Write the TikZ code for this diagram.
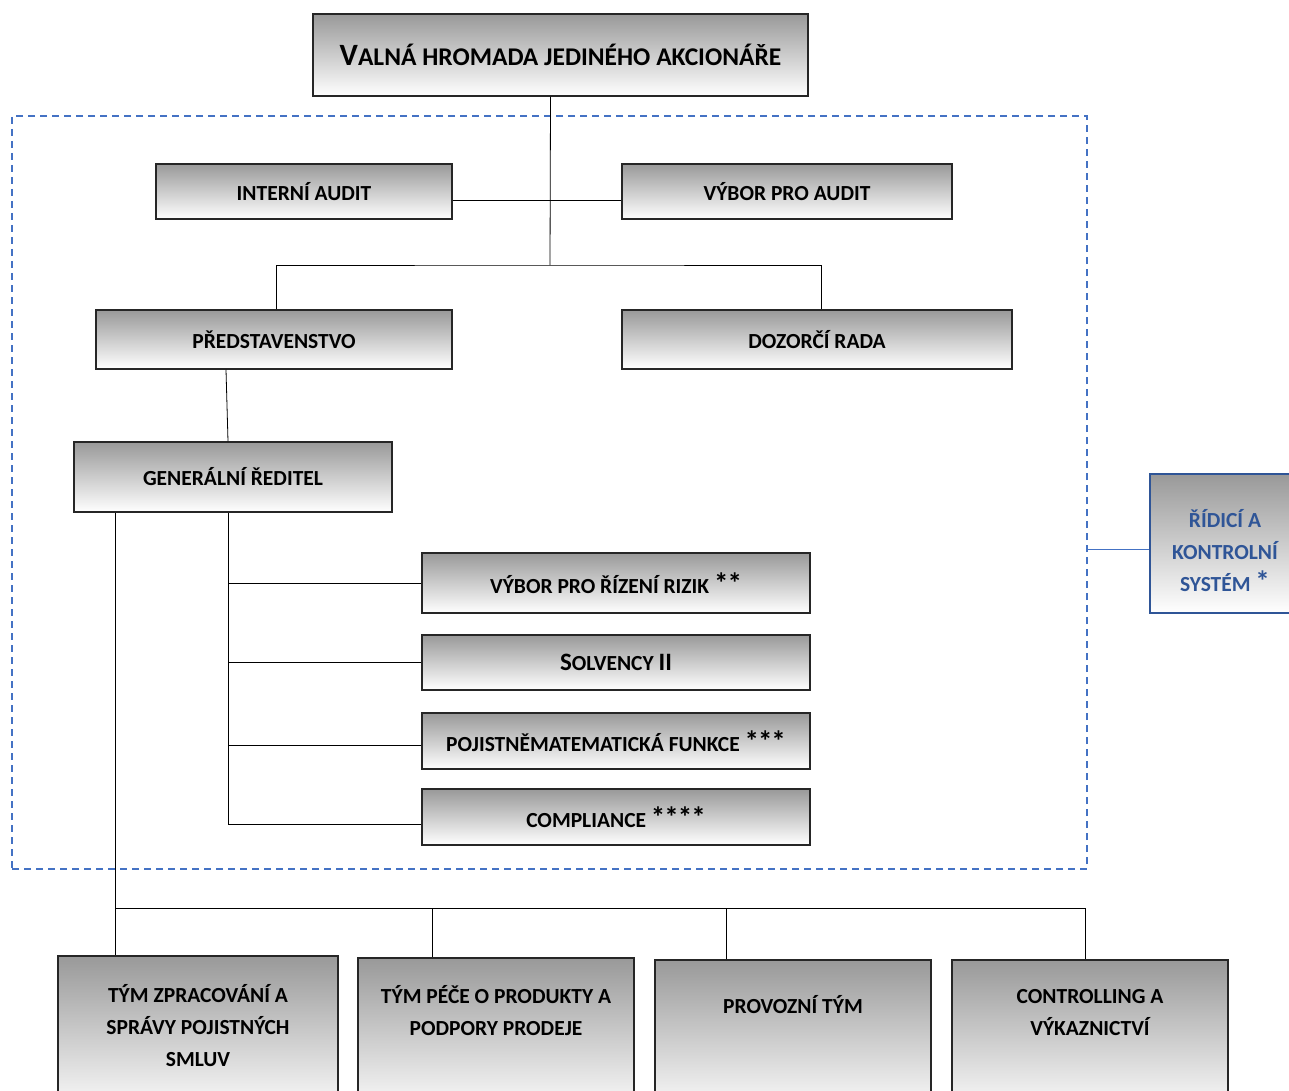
\documentclass[tikz,border=0pt]{standalone}
\usepackage{fontspec}
\setmainfont{Carlito}
\definecolor{dblue}{HTML}{4472C4}
\definecolor{tblue}{HTML}{2F5597}
\newcommand{\astx}[1]{\raisebox{0pt}{\fontsize{29}{20}\selectfont #1}}
\begin{document}
\begin{tikzpicture}[x=1pt,y=-1pt,
  box/.style={draw=black!85, line width=1.5pt, top color=black!40, bottom color=white,
    inner sep=0pt, align=center, font=\fontsize{21.5}{32}\selectfont\bfseries},
  txt/.style={inner sep=0pt, align=center, font=\fontsize{21.5}{32}\selectfont\bfseries},
  conn/.style={draw=black, line width=0.8pt}]
\useasboundingbox (0,0) rectangle (1289,1091);
\clip (0,0) rectangle (1289,1091);
\fill[white] (0,0) rectangle (1289,1091);
% dashed frame
\node[draw=dblue, line width=1.3pt, dash pattern=on 7pt off 5pt, minimum width=1075pt, minimum height=753pt, inner sep=0pt] (sys) at (549.5,492.5) {};
% top
\node[box, minimum width=495pt, minimum height=82pt] (top) at (560.5,55)
  {{\fontsize{31}{30}\selectfont V}{\fontsize{25.5}{30}\selectfont ALNÁ HROMADA JEDINÉHO AKCIONÁŘE}};
\node[box, minimum width=296pt, minimum height=55pt] (interni) at (304,191.5) {INTERNÍ AUDIT};
\node[box, minimum width=330pt, minimum height=55pt] (vaudit) at (787,191.5) {VÝBOR PRO AUDIT};
\node[box, minimum width=356pt, minimum height=59pt] (pred) at (274,339.5) {PŘEDSTAVENSTVO};
\node[box, minimum width=390pt, minimum height=59pt] (dozor) at (817,339.5) {DOZORČÍ RADA};
\node[box, minimum width=318pt, minimum height=70pt] (gr) at (233,477) {\raisebox{-4pt}{GENERÁLNÍ ŘEDITEL}};
\node[box, minimum width=388pt, minimum height=60pt] (risk) at (616,583) {VÝBOR PRO ŘÍZENÍ RIZIK \astx{*\kern-1pt*}};
\node[box, minimum width=388pt, minimum height=55pt] (solv) at (616,662.5)
  {{\fontsize{25}{30}\selectfont S}{\fontsize{21.5}{30}\selectfont OLVENCY }{\fontsize{25}{30}\selectfont II}};
\node[box, minimum width=388pt, minimum height=56pt] (poj) at (616,741) {POJISTNĚMATEMATICKÁ FUNKCE \astx{*\kern-1pt*\kern-1pt*}};
\node[box, minimum width=388pt, minimum height=56pt] (comp) at (616,817) {COMPLIANCE \astx{*\kern-1pt*\kern-1pt*\kern-1pt*}};
% bottom boxes (cut by page edge)
\node[box, minimum width=280pt, minimum height=160pt] (b1) at (198,1036) {};
\node[box, minimum width=276pt, minimum height=158pt] (b2) at (496,1037) {};
\node[box, minimum width=276pt, minimum height=156pt] (b3) at (793,1038) {};
\node[box, minimum width=276pt, minimum height=156pt] (b4) at (1090,1038) {};
\node[txt] (t1) at (198,1026) {TÝM ZPRACOVÁNÍ A\\SPRÁVY POJISTNÝCH\\SMLUV};
\node[txt] (t2) at (496,1011) {TÝM PÉČE O PRODUKTY A\\PODPORY PRODEJE};
\node[txt] (t3) at (793,1005) {PROVOZNÍ TÝM};
\node[txt] (t4) at (1090,1013) {CONTROLLING A\\VÝKAZNICTVÍ};
% right system box
\node[draw=tblue, line width=1.5pt, top color=black!40, bottom color=white, minimum width=180pt, minimum height=139pt, inner sep=0pt] (rks) at (1240,543.5) {};
\node[txt, text=tblue] (rkst) at (1225,551) {ŘÍDICÍ A\\KONTROLNÍ\\SYSTÉM \astx{*}};
% connectors
\coordinate (j1) at (550,265);
\draw[conn] ([xshift=-10pt]top.south) -- (j1);
\draw[conn] ([yshift=-8.5pt]interni.east) -- ([yshift=-8.5pt]vaudit.west);
\draw[conn] ([xshift=2pt]pred.north) |- (j1) -| ([xshift=4pt]dozor.north);
\draw[conn] ([xshift=-48pt]pred.south) -- ([xshift=-5pt]gr.north);
\coordinate (gs) at ([xshift=-5pt]gr.south);
\draw[conn] (gs) |- ([yshift=-7pt]comp.west);
\draw[conn] (risk.west) -- (risk.west -| gs);
\draw[conn] (solv.west) -- (solv.west -| gs);
\draw[conn] ([yshift=-4pt]poj.west) -- ([yshift=-4pt]poj.west -| gs);
\coordinate (gb) at ([xshift=-118pt]gr.south);
\draw[conn] (gb) -- ([xshift=-83pt]b1.north);
\coordinate (hb) at (115,908);
\draw[conn] (hb) -| ([xshift=-5pt]b4.north);
\draw[conn] ([xshift=-64pt]b2.north) -- ([xshift=-64pt]b2.north |- hb);
\draw[conn] ([xshift=-67pt]b3.north) -- ([xshift=-67pt]b3.north |- hb);
\coordinate (sysr) at (sys.east |- 0,549);
\draw[draw=dblue, line width=1pt] (sysr) -- ([yshift=-5.5pt]rks.west);
\end{tikzpicture}
\end{document}
